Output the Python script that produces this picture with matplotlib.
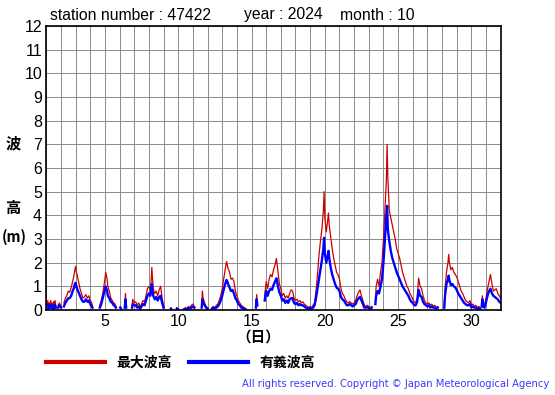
import matplotlib.pyplot as plt
import numpy as np

nan = np.nan

# hour-ish samples of October 2024, day of month as float (NaN = missing)
day = [1.0, 1.05, 1.1, 1.15, 1.2, 1.25, 1.3, 1.35, 1.4, 1.45, 1.5, 1.55, 1.6, 1.65, 1.7,
       1.8, 1.9, 2.0, 2.1,
       2.2, 2.3, 2.4, 2.5, 2.6, 2.7, 2.8, 2.9, 2.95, 3.0, 3.05, 3.1, 3.2, 3.3, 3.4, 3.5,
       3.6, 3.7, 3.8, 3.9, 4.0, 4.1, 4.15, 4.3,
       4.65, 4.75, 4.85, 4.95, 5.0, 5.05, 5.1, 5.15, 5.2, 5.3, 5.4, 5.5, 5.6, 5.7, 5.75, 5.9,
       6.05, 6.1, 6.2, 6.35, 6.4, 6.45, 6.55,
       6.85, 6.9, 7.0, 7.1, 7.2, 7.3, 7.4, 7.5, 7.6, 7.7, 7.8, 7.9, 8.0, 8.1, 8.15, 8.2,
       8.25, 8.3, 8.4, 8.5, 8.6, 8.7, 8.8, 8.9, 9.0, 9.1,
       9.5, 9.55, 9.7, 9.9, 10.0, 10.1,
       10.4, 10.5, 10.6, 10.7, 10.8, 10.9, 11.0, 11.1, 11.3,
       11.6, 11.65, 11.7, 11.8, 11.9, 12.0, 12.1,
       12.3, 12.4, 12.5, 12.6, 12.7, 12.8, 12.9, 13.0, 13.1, 13.2, 13.3, 13.35, 13.4, 13.5,
       13.6, 13.7, 13.8, 13.9, 14.0, 14.1, 14.2, 14.3, 14.4, 14.5, 14.6, 14.8,
       15.3, 15.35, 15.4, 15.5,
       15.9, 16.0, 16.1, 16.2, 16.3, 16.4, 16.5, 16.6, 16.7, 16.75, 16.8, 16.9, 17.0, 17.1,
       17.2, 17.3, 17.4, 17.5, 17.6, 17.7, 17.8, 17.9, 18.0, 18.1, 18.2, 18.3, 18.4, 18.5,
       18.6, 18.7, 18.8, 18.9, 19.0, 19.1, 19.2, 19.3, 19.4, 19.5, 19.6, 19.7, 19.8, 19.9,
       19.95, 20.0, 20.1, 20.2, 20.25, 20.3, 20.4, 20.5, 20.6, 20.7, 20.8, 20.9, 21.0, 21.1,
       21.2, 21.3, 21.4, 21.5, 21.6, 21.7, 21.8, 21.9, 22.0, 22.1, 22.2, 22.3, 22.4, 22.5,
       22.6, 22.7, 22.8, 22.9, 23.0, 23.1, 23.2, 23.3,
       23.45, 23.5, 23.6, 23.7, 23.8, 23.9, 24.0, 24.1, 24.2, 24.25, 24.3, 24.4, 24.5, 24.6,
       24.7, 24.8, 24.9, 25.0, 25.1, 25.2, 25.3, 25.4, 25.5, 25.6, 25.7, 25.8, 25.9, 26.0,
       26.1, 26.2, 26.3, 26.4, 26.5, 26.6, 26.7, 26.8, 26.9, 27.0, 27.1, 27.2, 27.3, 27.4,
       27.5, 27.6, 27.7, 27.9,
       28.15, 28.2, 28.3, 28.4, 28.45, 28.5, 28.6, 28.7, 28.8, 28.9, 29.0, 29.1, 29.2, 29.3,
       29.4, 29.5, 29.6, 29.7, 29.8, 29.9, 30.0, 30.1, 30.2, 30.3, 30.4, 30.5, 30.6, 30.65,
       30.7, 30.75, 30.8, 30.9, 31.0, 31.1, 31.2, 31.3, 31.4, 31.5, 31.6, 31.7, 31.8, 31.9, 32.0]

# 最大波高 (max wave height, m)
max_h = [0.35, 0.15, 0.4, 0.1, 0.3, 0.2, 0.4, 0.15, 0.3, 0.1, 0.35, 0.2, 0.4, 0.15, nan,
         0.2, 0.3, 0.15, nan,
         0.3, 0.5, 0.6, 0.8, 0.75, 0.95, 1.2, 1.5, 1.7, 1.85, 1.6, 1.5, 1.2, 0.9, 0.7, 0.5,
         0.55, 0.65, 0.5, 0.6, 0.4, 0.3, 0.2, nan,
         0.2, 0.4, 0.7, 1.1, 1.3, 1.6, 1.45, 1.3, 1.0, 0.8, 0.5, 0.4, 0.3, 0.25, 0.15, nan,
         0.15, 0.1, nan, 0.2, 0.7, 0.2, nan,
         0.2, 0.45, 0.3, 0.35, 0.2, 0.3, 0.15, 0.25, 0.4, 0.35, 0.6, 0.9, 1.0, 0.85, 1.2, 1.8,
         1.3, 0.9, 0.7, 0.8, 0.6, 0.85, 1.0, 0.5, 0.2, nan,
         0.1, 0.05, nan, 0.1, 0.05, nan,
         0.05, 0.1, 0.05, 0.15, 0.1, 0.2, 0.25, 0.15, nan,
         0.2, 0.8, 0.5, 0.3, 0.15, 0.1, nan,
         0.1, 0.15, 0.1, 0.2, 0.25, 0.4, 0.6, 0.9, 1.3, 1.7, 2.05, 1.9, 1.75, 1.6,
         1.3, 1.35, 1.2, 0.8, 0.6, 0.4, 0.3, 0.2, 0.15, 0.1, 0.05, nan,
         0.2, 0.65, 0.3, nan,
         0.6, 1.2, 0.9, 1.3, 1.5, 1.4, 1.7, 1.9, 2.18, 1.9, 1.6, 1.1, 0.9, 0.6,
         0.7, 0.5, 0.6, 0.5, 0.7, 0.85, 0.8, 0.5, 0.4, 0.45, 0.35, 0.4, 0.3, 0.35,
         0.25, 0.2, 0.15, 0.1, 0.15, 0.1, 0.2, 0.3, 0.8, 1.5, 2.3, 2.9, 3.4, 4.2,
         5.0, 3.9, 3.3, 3.8, 4.1, 3.6, 3.1, 2.6, 2.2, 1.9, 1.6, 1.5, 1.3, 0.9,
         0.7, 0.6, 0.45, 0.35, 0.3, 0.35, 0.3, 0.25, 0.3, 0.4, 0.6, 0.75, 0.85, 0.6,
         0.4, 0.2, 0.15, 0.2, 0.15, 0.1, 0.15, nan,
         0.4, 1.0, 1.3, 1.0, 1.6, 2.0, 3.0, 4.2, 5.5, 7.0, 5.6, 4.2, 3.9, 3.6,
         3.3, 3.0, 2.6, 2.4, 2.2, 1.9, 1.6, 1.4, 1.2, 1.0, 0.9, 0.7, 0.6, 0.45,
         0.35, 0.3, 0.5, 1.35, 1.0, 0.9, 0.6, 0.4, 0.3, 0.25, 0.3, 0.2, 0.25, 0.15,
         0.2, 0.1, 0.15, nan,
         0.2, 0.9, 1.6, 2.0, 2.35, 2.0, 1.7, 1.8, 1.6, 1.5, 1.4, 1.2, 1.0, 0.8,
         0.7, 0.55, 0.4, 0.35, 0.3, 0.4, 0.2, 0.25, 0.15, 0.2, 0.1, 0.15, 0.1, nan,
         0.3, 0.6, 0.25, 0.2, 0.5, 0.9, 1.2, 1.5, 1.1, 0.8, 0.85, 0.9, 0.7, 0.6, 0.5]

# 有義波高 (significant wave height, m)
sig_h = [0.15, 0.1, 0.25, 0.05, 0.2, 0.1, 0.2, 0.1, 0.15, 0.05, 0.2, 0.1, 0.2, 0.1, nan,
         0.1, 0.2, 0.1, nan,
         0.15, 0.3, 0.4, 0.5, 0.5, 0.6, 0.8, 0.95, 1.1, 1.15, 1.0, 0.9, 0.75, 0.6, 0.45, 0.35,
         0.35, 0.45, 0.35, 0.4, 0.25, 0.15, 0.1, nan,
         0.1, 0.25, 0.5, 0.75, 0.85, 1.0, 0.9, 0.8, 0.6, 0.5, 0.35, 0.3, 0.2, 0.15, 0.1, nan,
         0.1, 0.05, nan, 0.1, 0.45, 0.1, nan,
         0.1, 0.25, 0.2, 0.2, 0.1, 0.15, 0.05, 0.15, 0.25, 0.2, 0.4, 0.6, 0.7, 0.6, 0.9, 1.1,
         0.8, 0.6, 0.45, 0.55, 0.4, 0.55, 0.6, 0.3, 0.1, nan,
         0.05, 0.02, nan, 0.05, 0.02, nan,
         0.03, 0.05, 0.03, 0.1, 0.05, 0.1, 0.15, 0.1, nan,
         0.1, 0.45, 0.3, 0.2, 0.1, 0.05, nan,
         0.05, 0.1, 0.05, 0.1, 0.15, 0.25, 0.4, 0.6, 0.85, 1.1, 1.27, 1.2, 1.1, 0.95,
         0.8, 0.85, 0.7, 0.5, 0.4, 0.25, 0.2, 0.1, 0.1, 0.05, 0.03, nan,
         0.1, 0.45, 0.2, nan,
         0.4, 0.8, 0.6, 0.8, 0.9, 0.85, 1.05, 1.2, 1.34, 1.2, 1.0, 0.75, 0.6, 0.4,
         0.45, 0.3, 0.4, 0.3, 0.45, 0.5, 0.5, 0.3, 0.25, 0.3, 0.2, 0.25, 0.2, 0.2,
         0.15, 0.1, 0.08, 0.05, 0.1, 0.05, 0.1, 0.2, 0.5, 0.9, 1.3, 1.7, 2.1, 2.6,
         3.05, 2.4, 2.0, 2.3, 2.5, 2.2, 1.8, 1.5, 1.3, 1.1, 0.95, 0.9, 0.8, 0.55,
         0.45, 0.4, 0.3, 0.2, 0.2, 0.25, 0.2, 0.15, 0.2, 0.25, 0.4, 0.5, 0.55, 0.4,
         0.25, 0.1, 0.1, 0.12, 0.08, 0.05, 0.1, nan,
         0.25, 0.6, 0.8, 0.7, 1.0, 1.3, 2.0, 3.0, 4.0, 4.4, 3.4, 2.9, 2.5, 2.2,
         2.0, 1.8, 1.6, 1.45, 1.3, 1.15, 1.0, 0.9, 0.8, 0.7, 0.6, 0.45, 0.35, 0.3,
         0.2, 0.2, 0.35, 0.85, 0.6, 0.55, 0.35, 0.25, 0.2, 0.15, 0.2, 0.1, 0.15, 0.1,
         0.1, 0.05, 0.1, nan,
         0.1, 0.6, 1.1, 1.3, 1.45, 1.25, 1.05, 1.1, 1.0, 0.95, 0.85, 0.7, 0.6, 0.5,
         0.4, 0.3, 0.25, 0.2, 0.2, 0.25, 0.1, 0.15, 0.1, 0.1, 0.05, 0.08, 0.05, nan,
         0.15, 0.45, 0.15, 0.1, 0.35, 0.6, 0.8, 0.9, 0.7, 0.6, 0.55, 0.5, 0.45, 0.35, 0.3]

xticks = [5, 10, 15, 20, 25, 30]
yticks = list(range(0, 13))

jp = ['Noto Sans CJK JP', 'DejaVu Sans']
plt.rcParams['font.family'] = ['Liberation Sans', 'DejaVu Sans']

fig = plt.figure(figsize=(5.55, 3.95), dpi=100)
ax = fig.add_axes([0.0834, 0.2152, 0.8188, 0.7190])

ax.plot(day, max_h, color="#cc0000", linewidth=0.9, label="最大波高")
ax.plot(day, sig_h, color="#0000ff", linewidth=1.7, label="有義波高")

ax.set_xlim(1, 32)
ax.set_ylim(0, 12)
ax.set_xticks(np.arange(1, 33), minor=True)
ax.set_xticks(xticks)
ax.set_yticks(yticks)
ax.tick_params(which="both", length=0, labelsize=11.5, pad=3)
ax.grid(True, which="both", color="#8c8c8c", linewidth=0.7)
ax.set_axisbelow(True)
for s in ax.spines.values():
    s.set_color("black")
    s.set_linewidth(1.2)

# header line
fig.text(50/555, 1-15/395, "station number : 47422", fontsize=11.3, va="center")
fig.text(244/555, 1-15/395, "year : 2024", fontsize=11.3, va="center")
fig.text(340/555, 1-15/395, "month : 10", fontsize=11.3, va="center")

fig.text(13/555, 1-143/395, "波", family=jp, fontsize=11, weight="bold", ha="center", va="center")
fig.text(13/555, 1-208/395, "高", family=jp, fontsize=11, weight="bold", ha="center", va="center")
fig.text(14/555, 1-237/395, "(m)", family=jp, fontsize=10.5, weight="bold", ha="center", va="center")
fig.text(258/555, 1-337/395, "（日）", family=jp, fontsize=10.5, weight="bold", ha="center", va="center")

leg = fig.legend(loc="center left", bbox_to_anchor=(33/555, 1-363/395), ncol=2, frameon=False,
                 handlelength=4.3, handletextpad=0.8, columnspacing=1.2,
                 prop={"family": jp, "weight": "bold", "size": 10})
for h in leg.legend_handles:
    h.set_linewidth(3)

fig.text(549/555, 1-384/395, "All rights reserved. Copyright \u00a9 Japan Meteorological Agency",
         color="#3a3aff", fontsize=7.2, family="DejaVu Sans", ha="right", va="center")

plt.savefig("out.png")
